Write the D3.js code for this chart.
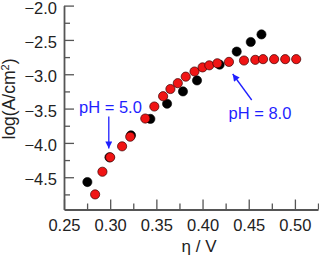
<!DOCTYPE html>
<html><head><meta charset="utf-8">
<script src="https://cdn.jsdelivr.net/npm/d3@7"></script>
<style>body{margin:0;background:#fff}text{font-family:"Liberation Sans",Arial,sans-serif}</style>
</head><body><svg id="c" width="319" height="256"></svg>
<script>
// pH 5.0 series (black)
const eta5 = [0.2753,0.2992,0.3225,0.3435,0.3616,0.3788,0.3940,0.4185,0.4370,0.4522,0.4638];
const log5 = [-4.57,-4.21,-3.89,-3.65,-3.43,-3.25,-3.09,-2.86,-2.67,-2.53,-2.42];
// pH 8.0 series (red)
const eta8 = [0.2837,0.2916,0.3000,0.3129,0.3217,0.3380,0.3478,0.3573,0.3652,0.3732,0.3818,0.3913,0.4000,0.4073,0.4160,0.4286,0.4449,0.4571,0.4655,0.4775,0.4895,0.5014];
const log8 = [-4.75,-4.42,-4.21,-4.05,-3.91,-3.645,-3.47,-3.32,-3.215,-3.13,-3.035,-2.96,-2.90,-2.87,-2.84,-2.82,-2.80,-2.79,-2.78,-2.78,-2.78,-2.78];
const xMajor = [0.25,0.30,0.35,0.40,0.45,0.50];
const xMinor = [0.275,0.325,0.375,0.425,0.475,0.525];
const yMajor = [-2.0,-2.5,-3.0,-3.5,-4.0,-4.5];
const yMinor = [-2.25,-2.75,-3.25,-3.75,-4.25,-4.75];
const labels = ["pH = 5.0","pH = 8.0"];
const xTitle = "η / V";

const svg = d3.select("#c");
const x = d3.scaleLinear().domain([0.25,0.525]).range([64,318]);
const y = d3.scaleLinear().domain([-4.97,-2.0]).range([209.5,5.6]);
const axisColor = "#555";

function styleAxis(g){
  g.select(".domain").attr("stroke",axisColor).attr("stroke-width",1.8);
  g.selectAll(".tick line").attr("stroke",axisColor).attr("stroke-width",1.3);
  g.selectAll("text").attr("fill","#222").style("font-size","16.5px").style("font-family","'Liberation Sans',Arial,sans-serif");
}
// x axis
const gx = svg.append("g").attr("transform","translate(0,209.5)")
  .call(d3.axisBottom(x).tickValues(xMajor).tickFormat(d3.format(".2f")).tickSizeInner(-10).tickSizeOuter(0).tickPadding(10));
styleAxis(gx);
const gxm = svg.append("g").attr("transform","translate(0,209.5)")
  .call(d3.axisBottom(x).tickValues(xMinor).tickFormat("").tickSizeInner(-6).tickSizeOuter(0));
styleAxis(gxm); gxm.select(".domain").remove();
// y axis
const gy = svg.append("g").attr("transform","translate(64,0)")
  .call(d3.axisLeft(y).tickValues(yMajor).tickFormat(d3.format(".1f")).tickSizeInner(-10).tickSizeOuter(0).tickPadding(7));
styleAxis(gy);
gy.selectAll(".tick text").attr("dy","0.45em");
const gym = svg.append("g").attr("transform","translate(64,0)")
  .call(d3.axisLeft(y).tickValues(yMinor).tickFormat("").tickSizeInner(-6).tickSizeOuter(0));
styleAxis(gym); gym.select(".domain").remove();

// titles
svg.append("text").attr("x",199).attr("y",252).attr("text-anchor","middle")
  .style("font-size","17px").attr("fill","#222").text(xTitle);
const yl = svg.append("text").attr("transform","translate(15,99) rotate(-90)").attr("text-anchor","middle")
  .style("font-size","17.5px").attr("fill","#222");
yl.append("tspan").text("log(A/cm");
yl.append("tspan").attr("dy",-6).style("font-size","11px").text("2");
yl.append("tspan").attr("dy",6).text(")");

// points
svg.append("g").selectAll("circle").data(d3.zip(eta5,log5)).join("circle")
  .attr("cx",d=>x(d[0])).attr("cy",d=>y(d[1])).attr("r",4.6)
  .attr("fill","#000").attr("stroke","#000").attr("stroke-width",0.6);
svg.append("g").selectAll("circle").data(d3.zip(eta8,log8)).join("circle")
  .attr("cx",d=>x(d[0])).attr("cy",d=>y(d[1])).attr("r",4.6)
  .attr("fill","#f01414").attr("stroke","#3a0000").attr("stroke-width",0.7);

// annotations
const blue = "#1f1fff";
svg.append("defs").append("marker").attr("id","ah").attr("viewBox","0 0 10 10")
  .attr("refX",10).attr("refY",5).attr("markerWidth",8).attr("markerHeight",7)
  .attr("markerUnits","userSpaceOnUse").attr("orient","auto")
  .append("path").attr("d","M0,0L10,5L0,10Z").attr("fill",blue);
svg.append("text").attr("x",79).attr("y",112.5).attr("fill",blue).style("font-size","16.5px").text(labels[0]);
svg.append("line").attr("x1",x(0.2985)).attr("y1",116.5).attr("x2",x(0.2985)).attr("y2",148.5)
  .attr("stroke",blue).attr("stroke-width",1.3).attr("marker-end","url(#ah)");
svg.append("text").attr("x",228.5).attr("y",119).attr("fill",blue).style("font-size","16.5px").text(labels[1]);
svg.append("line").attr("x1",251.7).attr("y1",100).attr("x2",232.7).attr("y2",74)
  .attr("stroke",blue).attr("stroke-width",1.3).attr("marker-end","url(#ah)");
</script></body></html>
